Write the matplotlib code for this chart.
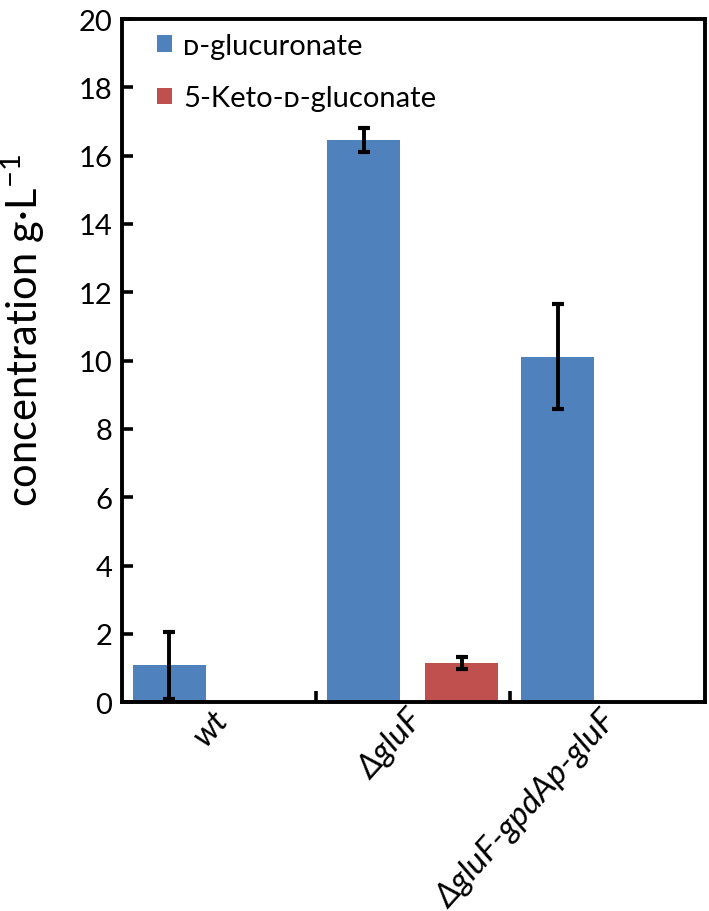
import matplotlib
matplotlib.use("Agg")
import matplotlib.pyplot as plt
import matplotlib.transforms as mtransforms
import numpy as np

# data
strains = ["wt", "ΔgluF", "ΔgluF-gpdAp-gluF"]
glucuronate = [1.08, 16.45, 10.12]
glucuronate_err = [0.98, 0.35, 1.54]
keto_gluconate = [0.0, 1.14, 0.0]
keto_gluconate_err = [0.0, 0.17, 0.0]
series_labels = ["ᴅ-glucuronate", "5-Keto-ᴅ-gluconate"]

blue = "#4F81BD"
red = "#C0504D"

plt.rcParams["font.family"] = ["Lato", "DejaVu Sans"]
plt.rcParams["mathtext.fontset"] = "custom"
plt.rcParams["mathtext.rm"] = "Lato"

fig = plt.figure(figsize=(7.09, 9.12), dpi=100)
ax = fig.add_axes([0.172, 0.229, 0.822, 0.749])

x = np.arange(len(strains))
width = 0.376
err_kw = dict(ecolor="black", elinewidth=2.8, capsize=4.3, capthick=3.0)

ax.bar(x - 0.256, glucuronate, width, color=blue, label=series_labels[0])
ax.errorbar(x - 0.256, glucuronate, yerr=glucuronate_err, fmt="none", **err_kw)
ax.bar(x + 0.25, keto_gluconate, width, color=red, label=series_labels[1])
kx = [xi + 0.25 for xi, e in zip(x, keto_gluconate_err) if e > 0]
ky = [v for v, e in zip(keto_gluconate, keto_gluconate_err) if e > 0]
ke = [e for e in keto_gluconate_err if e > 0]
ax.errorbar(kx, ky, yerr=ke, fmt="none", **err_kw)

ax.set_xlim(-0.5, len(strains) - 0.5)
ax.set_ylim(0, 20)
ax.set_yticks(np.arange(0, 21, 2))
ax.tick_params(axis="y", direction="in", length=8, width=2.6, labelsize=21, pad=7)

# category boundaries as minor ticks, labels at centres
ax.set_xticks(x)
ax.set_xticklabels(strains, rotation=48, ha="right", va="center",
                   rotation_mode="anchor", fontsize=24, style="italic")
ax.tick_params(axis="x", which="major", length=0, pad=9)
shift = mtransforms.ScaledTranslation(0.04, 0, fig.dpi_scale_trans)
for lab in ax.get_xticklabels():
    lab.set_transform(lab.get_transform() + shift)
ax.set_xticks(np.arange(0.5, len(strains) - 0.5, 1.0), minor=True)
ax.tick_params(axis="x", which="minor", direction="in", length=8, width=2.6)

for sp in ax.spines.values():
    sp.set_linewidth(2.8)

ax.set_ylabel("concentration g·L$^{−1}$", fontsize=30)
ax.yaxis.set_label_coords(-0.128, 0.545)

leg = ax.legend(loc="upper left", bbox_to_anchor=(0.015, 1.018), frameon=False,
                fontsize=21, handlelength=0.5, handleheight=0.5,
                handletextpad=0.4, labelspacing=0.9)

fig.savefig("out.png", dpi=100)
